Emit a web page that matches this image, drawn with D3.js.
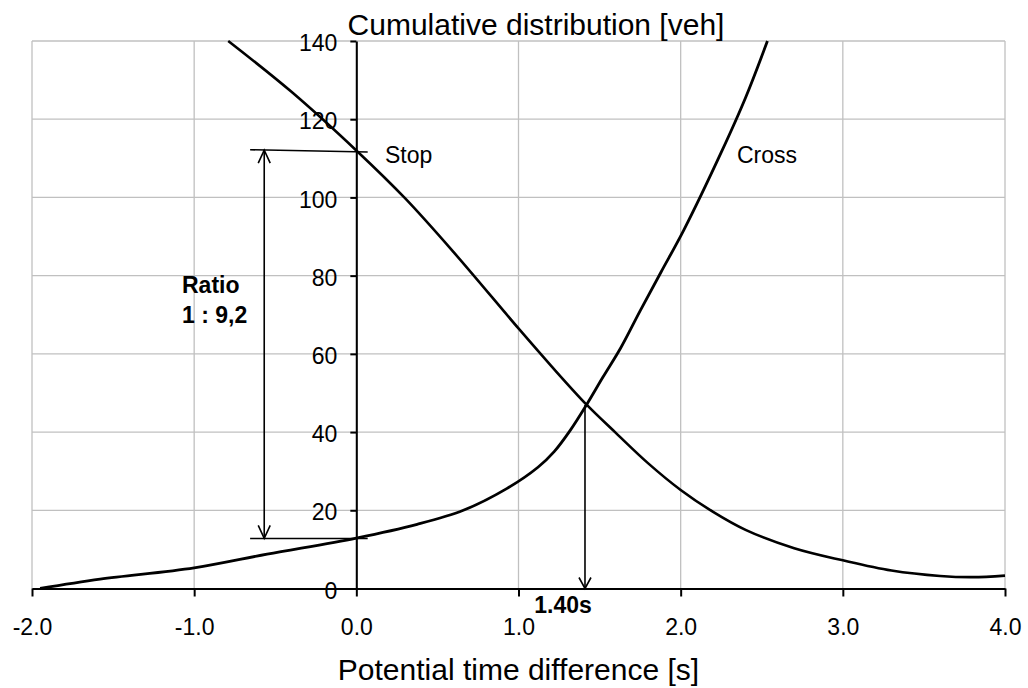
<!DOCTYPE html>
<html>
<head>
<meta charset="utf-8">
<script src="https://cdn.jsdelivr.net/npm/d3@7"></script>
<style>
  html, body { margin: 0; padding: 0; background: #fff; }
  svg { display: block; font-family: "Liberation Sans", Arial, sans-serif; }
</style>
</head>
<body>
<svg id="chart" width="1028" height="688"></svg>
<script>
// ---- Data ----
const xTicks = [-2, -1, 0, 1, 2, 3, 4];
const yTicks = [0, 20, 40, 60, 80, 100, 120, 140];

const stopX = [-0.79, -0.4, 0, 0.3, 0.6, 1.0, 1.2, 1.42, 1.6, 1.8, 2.0, 2.2, 2.4, 2.7, 3.0, 3.3, 3.6, 3.8, 4.0];
const stopY = [140, 127, 112, 99.8, 86, 66.5, 57, 47, 39.8, 32, 25.2, 19.6, 15, 10.3, 7.2, 4.6, 3.2, 2.9, 3.3];

const crossX = [-1.95, -1.58, -1.0, -0.55, 0, 0.375, 0.66, 0.93, 1.12, 1.22, 1.32, 1.42, 1.52, 1.63, 1.75, 1.88, 2.02, 2.25, 2.4, 2.535];
const crossY = [0, 2.4, 5.3, 8.8, 12.9, 16.4, 20.0, 25.6, 31.0, 35.0, 40.5, 47, 54, 61.5, 71, 81, 91.7, 111.5, 125.5, 140];

// annotation values
const stopLevel = 112;      // Stop value at x=0
const crossLevel = 12.8;    // Cross value at x=0
const levelLineX = [-0.655, 0.07];
const ratioArrowX = -0.568;
const crossingX = 1.41;
const crossingY = 47;
const labels = { title: "Cumulative distribution [veh]", xTitle: "Potential time difference [s]",
  stop: "Stop", cross: "Cross", ratio1: "Ratio", ratio2: "1 : 9,2", crossing: "1.40s" };

// ---- Layout ----
const svg = d3.select("#chart");
const L = 32, R = 1005, T = 41, B = 588.5;
const x = d3.scaleLinear().domain([-2, 4]).range([L, R]);
const y = d3.scaleLinear().domain([0, 140]).range([B, T]);
const FS = 23;

// grid
const grid = svg.append("g").attr("stroke", "#c0c0c0").attr("stroke-width", 1.3);
grid.selectAll("line.v").data(xTicks).join("line")
  .attr("x1", d => x(d)).attr("x2", d => x(d)).attr("y1", y(140)).attr("y2", y(0));
grid.selectAll("line.h").data(yTicks.filter(d => d > 0)).join("line")
  .attr("x1", x(-2)).attr("x2", x(4)).attr("y1", d => y(d)).attr("y2", d => y(d));

// axes
const xAxis = svg.append("g").attr("transform", `translate(0,${y(0)})`)
  .call(d3.axisBottom(x).tickValues(xTicks).tickFormat(d => d.toFixed(1)).tickSize(8).tickPadding(22).tickSizeOuter(0));
const yAxis = svg.append("g").attr("transform", `translate(${x(0)},0)`)
  .call(d3.axisLeft(y).tickValues(yTicks).tickSize(6).tickPadding(13).tickSizeOuter(0));
[xAxis, yAxis].forEach(a => {
  a.select(".domain").attr("stroke", "#000").attr("stroke-width", 2);
  a.selectAll(".tick line").attr("stroke", "#000").attr("stroke-width", 2);
  a.selectAll("text").attr("fill", "#000").attr("font-size", FS)
    .attr("font-family", "'Liberation Sans', Arial, sans-serif");
});
yAxis.selectAll("text").attr("dy", "0.42em");

// curves
const line = d3.line().x(d => x(d[0])).y(d => y(d[1])).curve(d3.curveCatmullRom.alpha(0.5));
svg.append("path").datum(stopX.map((v, i) => [v, stopY[i]]))
  .attr("d", line).attr("fill", "none").attr("stroke", "#000").attr("stroke-width", 2.6);
svg.append("path").datum(crossX.map((v, i) => [v, crossY[i]]))
  .attr("d", line).attr("fill", "none").attr("stroke", "#000").attr("stroke-width", 2.8);

// annotation lines
const ann = svg.append("g").attr("stroke", "#000").attr("stroke-width", 1.6).attr("fill", "none");
ann.append("line").attr("x1", x(levelLineX[0])).attr("y1", y(stopLevel + 0.2))
  .attr("x2", x(levelLineX[1])).attr("y2", y(stopLevel - 0.4));
ann.append("line").attr("x1", x(levelLineX[0])).attr("y1", y(crossLevel))
  .attr("x2", x(levelLineX[1])).attr("y2", y(crossLevel));
// double arrow
const ax = x(ratioArrowX), ayTop = y(stopLevel + 0.1), ayBot = y(crossLevel);
ann.append("line").attr("x1", ax).attr("x2", ax).attr("y1", ayTop).attr("y2", ayBot);
ann.append("path").attr("d", `M${ax - 6},${ayTop + 13}L${ax},${ayTop}L${ax + 6},${ayTop + 13}`);
ann.append("path").attr("d", `M${ax - 6},${ayBot - 13}L${ax},${ayBot}L${ax + 6},${ayBot - 13}`);
// crossing arrow
const cx = x(crossingX), cyTop = y(crossingY), cyBot = y(0);
ann.append("line").attr("x1", cx).attr("x2", cx).attr("y1", cyTop).attr("y2", cyBot);
ann.append("path").attr("d", `M${cx - 6},${cyBot - 11}L${cx},${cyBot}L${cx + 6},${cyBot - 11}`);

// texts
const txt = (s, px, py, opts = {}) => svg.append("text").text(s).attr("x", px).attr("y", py)
  .attr("font-size", opts.size || FS).attr("font-weight", opts.bold ? "bold" : "normal")
  .attr("text-anchor", opts.anchor || "start").attr("fill", "#000");
txt(labels.title, 536, 35, { size: 30, anchor: "middle" });
txt(labels.xTitle, (L + R) / 2, 680, { size: 30, anchor: "middle" });
txt(labels.stop, 385, 163);
txt(labels.cross, 737, 163);
txt(labels.ratio1, 182, 293, { bold: true });
txt(labels.ratio2, 182, 323, { bold: true });
txt(labels.crossing, 563, 613, { bold: true, anchor: "middle" });
</script>
</body>
</html>
